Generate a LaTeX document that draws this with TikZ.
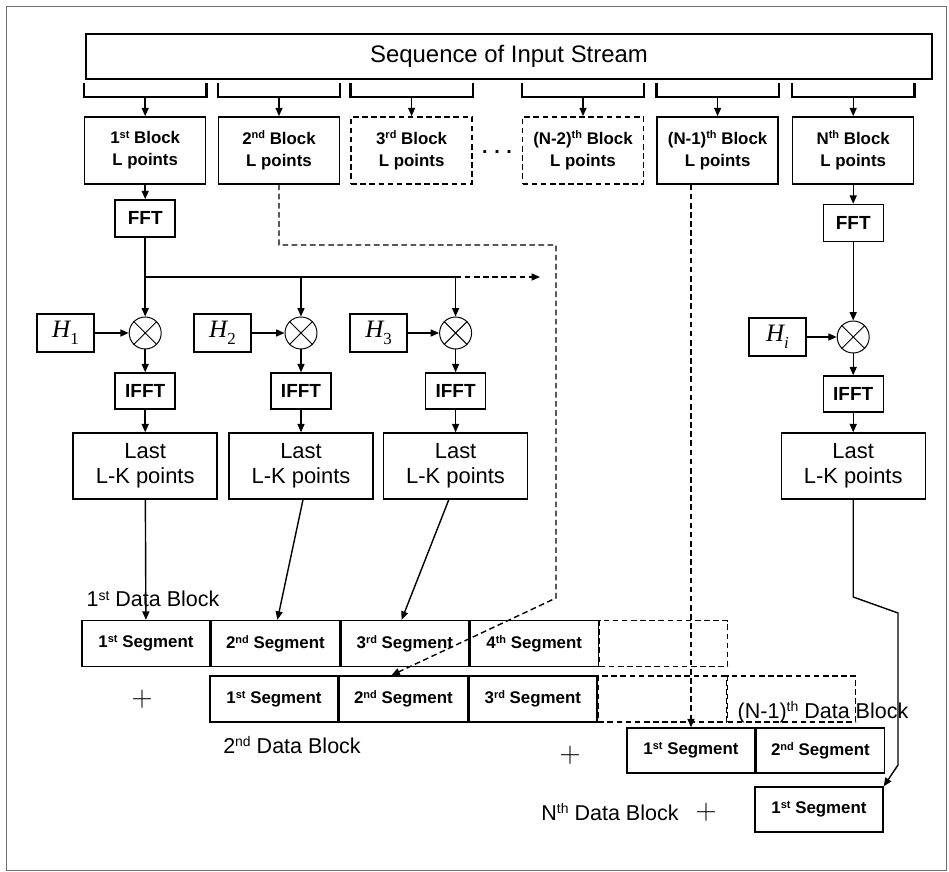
\documentclass[tikz,border=0pt]{standalone}
\usepackage{fontspec}
\setmainfont{Liberation Sans}
\newfontfamily\hfont{Liberation Serif}
\usepackage{graphicx}
\usetikzlibrary{positioning, arrows.meta, calc}
\definecolor{framegray}{RGB}{110,110,110}
\newcommand{\ordsup}[1]{\raisebox{0.6ex}{\scalebox{0.65}{#1}}}
\newcommand{\hlab}[1]{{\hfont\itshape H}\raisebox{-0.55ex}{\hfont\fontsize{12}{12}\selectfont #1}}

\begin{document}
\begin{tikzpicture}[
    line width=1pt,
    dsh/.style={dash pattern=on 4pt off 2.5pt},
    blk/.style={draw, align=center, minimum width=3.025cm, minimum height=1.675cm, inner sep=0pt, font=\bfseries\fontsize{12}{15.6}\selectfont},
    blkd/.style={blk, dsh},
    fftbox/.style={draw, minimum width=1.5cm, minimum height=0.925cm, inner sep=0pt, font=\bfseries\fontsize{13.5}{13.5}\selectfont},
    hbox/.style={draw, minimum width=1.425cm, minimum height=0.95cm, inner sep=0pt, font=\fontsize{17.8}{17.8}\selectfont},
    mult/.style={circle, draw, line width=0.7pt, minimum size=0.8cm, inner sep=0pt},
    lastbox/.style={draw, align=center, minimum width=3.6cm, minimum height=1.65cm, inner sep=0pt, font=\fontsize{15.6}{17.8}\selectfont},
    seg/.style={draw, minimum width=3.2cm, minimum height=1.15cm, inner sep=0pt, font=\bfseries\fontsize{12}{12}\selectfont},
    segd/.style={seg, dsh},
    lbl/.style={font=\fontsize{15.3}{15.3}\selectfont},
    plussign/.style={font=\fontsize{21}{21}\selectfont},
    arr/.style={-{Triangle[length=6pt,width=5pt]}},
  ]
  \useasboundingbox (0,0) rectangle (23.725,-21.8);
  % outer frame
  \draw[framegray, line width=0.6pt] (0.15,-0.15) rectangle (23.65,-21.75);
  % input stream
  \node[draw, minimum width=21.15cm, minimum height=1.125cm, font=\fontsize{17}{17}\selectfont] (seq) at (12.725,-1.4125) {Sequence of Input Stream};
  % blocks
  \node[blk]  (b1) at (3.63,-3.76)   {1\ordsup{st} Block\\L points};
  \node[blk]  (b2) at (6.975,-3.76)  {2\ordsup{nd} Block\\L points};
  \node[blkd] (b3) at (10.29,-3.76)  {3\ordsup{rd} Block\\L points};
  \node[blkd] (b4) at (14.575,-3.76) {(N-2)\ordsup{th} Block\\L points};
  \node[blk]  (b5) at (17.94,-3.76)  {(N-1)\ordsup{th} Block\\L points};
  \node[blk]  (b6) at (21.33,-3.76)  {N\ordsup{th} Block\\L points};
  \node[font=\bfseries\fontsize{14}{14}\selectfont] (dots) at (12.425,-3.8) {.\,\,.\,\,.};
  \foreach \b in {b1,b2,b3,b4,b5,b6} {
    \draw[line width=1.6pt] ([yshift=8.25mm]\b.north west) -- ([yshift=4.75mm]\b.north west)
      -- ([yshift=4.75mm]\b.north east) -- ([yshift=8.25mm]\b.north east);
    \draw[arr] ([yshift=4.75mm]\b.north) -- (\b.north);
  }
  % FFT
  \node[fftbox] (fft1) at (3.63,-5.46) {FFT};
  \node[fftbox] (fftn) at (21.33,-5.575) {FFT};
  % filters and multipliers
  \node[hbox] (h1) at (1.6375,-8.325) {\hlab{1}};
  \node[hbox] (h2) at (5.5625,-8.325) {\hlab{2}};
  \node[hbox] (h3) at (9.4625,-8.325) {\hlab{3}};
  \node[hbox] (hi) at (19.4375,-8.425) {\hlab{\itshape i}};
  \node[mult] (m1) at (3.63,-8.325) {};
  \node[mult] (m2) at (7.525,-8.325) {};
  \node[mult] (m3) at (11.39,-8.325) {};
  \node[mult] (mi) at (21.33,-8.425) {};
  \foreach \m in {m1,m2,m3,mi} {
    \draw[line width=0.7pt] (\m.north east) -- (\m.south west) (\m.north west) -- (\m.south east);
  }
  % IFFT
  \node[fftbox, minimum height=0.9cm] (ifft1) at (3.63,-9.775) {IFFT};
  \node[fftbox, minimum height=0.9cm] (ifft2) at (7.525,-9.775) {IFFT};
  \node[fftbox, minimum height=0.9cm] (ifft3) at (11.39,-9.775) {IFFT};
  \node[fftbox, minimum height=0.9cm] (iffti) at (21.33,-9.85) {IFFT};
  % last points
  \node[lastbox] (l1) at (3.63,-11.65)  {Last\\L-K points};
  \node[lastbox] (l2) at (7.525,-11.65) {Last\\L-K points};
  \node[lastbox] (l3) at (11.39,-11.65) {Last\\L-K points};
  \node[lastbox] (li) at (21.33,-11.65) {Last\\L-K points};
  % data blocks
  \node[seg] (d1a) at (3.65,-16.0875) {1\ordsup{st} Segment};
  \node[seg, right=0pt of d1a] (d1b) {2\ordsup{nd} Segment};
  \node[seg, right=0pt of d1b] (d1c) {3\ordsup{rd} Segment};
  \node[seg, right=0pt of d1c] (d1d) {4\ordsup{th} Segment};
  \node[segd, right=0pt of d1d] (d1e) {};
  \node[seg] (d2a) at (6.85,-17.475) {1\ordsup{st} Segment};
  \node[seg, right=0pt of d2a] (d2b) {2\ordsup{nd} Segment};
  \node[seg, right=0pt of d2b] (d2c) {3\ordsup{rd} Segment};
  \node[segd, right=0pt of d2c] (d2d) {};
  \node[segd, right=0pt of d2d] (d2e) {};
  \node[seg, minimum height=1.125cm] (d3a) at (17.275,-18.7625) {1\ordsup{st} Segment};
  \node[seg, minimum height=1.125cm, right=0pt of d3a] (d3b) {2\ordsup{nd} Segment};
  \node[seg, minimum height=1.125cm] (d4a) at (20.475,-20.2375) {1\ordsup{st} Segment};
  \node[lbl] (t1) at (3.825,-14.975) {1\ordsup{st} Data Block};
  \node[lbl] (t2) at (7.3,-18.625) {2\ordsup{nd} Data Block};
  \node[lbl] (t3) at (20.575,-17.8) {(N-1)\ordsup{th} Data Block};
  \node[lbl] (t4) at (15.25,-20.3) {N\ordsup{th} Data Block};
  \node[plussign] (p1) at (3.55,-17.475) {$+$};
  \node[plussign] (p2) at (14.25,-18.875) {$+$};
  \node[plussign] (p3) at (17.65,-20.3) {$+$};
  % flow
  \draw[arr] (b1) -- (fft1);
  \draw[arr] (b6) -- (fftn);
  \draw[arr] (fft1) -- (m1);
  \draw[arr] (fftn) -- (mi);
  \coordinate (br) at (3.63,-6.925);
  \coordinate (brend) at (13.5,-6.925);
  \draw (br) -- (br -| m3);
  \draw[arr, dsh] (br -| m3) -- (brend);
  \draw[arr] (br -| m2) -- (m2);
  \draw[arr] (br -| m3) -- (m3);
  \foreach \i in {1,2,3,i} {
    \draw[arr] (h\i) -- (m\i);
    \draw[arr] (m\i) -- (ifft\i);
    \draw[arr] (ifft\i) -- (l\i);
  }
  \draw[arr] (l1) -- (d1a);
  \draw[arr] ([xshift=0.5mm]l2.south) -- ([xshift=0.5mm]d1b.north);
  \draw[arr] ([xshift=-1.7mm]l3.south) -- ([xshift=-0.8mm]d1c.north);
  \draw[arr] (li.south) -- (21.33,-14.925) -- (22.45,-15.325) -- (22.45,-19.125) -- (d4a.north east);
  % dashed routes
  \coordinate (c1) at (13.9,-6.125);
  \coordinate (c2) at (13.9,-14.95);
  \draw[arr, dsh] (b2.south) |- (c1) -- (c2) -- ([xshift=-3mm]d2b.north);
  \draw[arr, dsh] (b5.south -| d3a.north) -- (d3a.north);
\end{tikzpicture}
\end{document}
